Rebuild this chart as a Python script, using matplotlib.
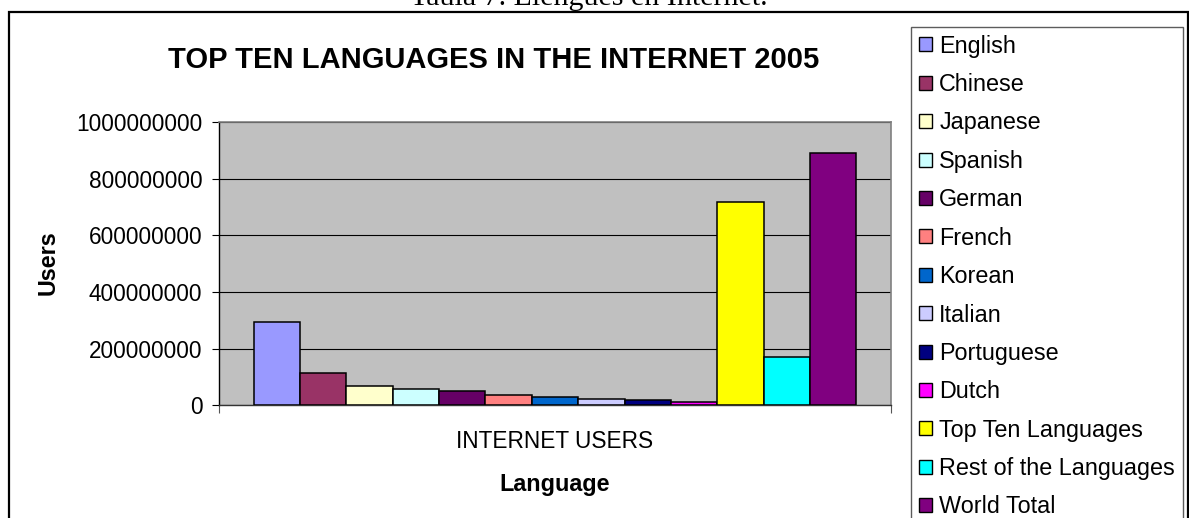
import matplotlib
matplotlib.use("Agg")
import matplotlib.pyplot as plt
from matplotlib.patches import Rectangle
from matplotlib.ticker import FixedLocator, FuncFormatter

# Internet users by language, 2005
languages = ["English", "Chinese", "Japanese", "Spanish", "German", "French",
             "Korean", "Italian", "Portuguese", "Dutch", "Top Ten Languages",
             "Rest of the Languages", "World Total"]
users = [294e6, 115e6, 67e6, 57e6, 51e6, 37e6, 30e6, 24e6, 19e6, 12e6,
         719e6, 172e6, 891e6]
colors = ["#9999FF", "#993366", "#FFFFCC", "#CCFFFF", "#660066", "#FF8080",
          "#0066CC", "#CCCCFF", "#000080", "#FF00FF", "#FFFF00", "#00FFFF",
          "#800080"]
yticks = [0, 200000000, 400000000, 600000000, 800000000, 1000000000]
category = "INTERNET USERS"

W, H = 1189, 518
plt.rcParams["font.family"] = ["Liberation Sans", "DejaVu Sans"]
fig = plt.figure(figsize=(W / 100, H / 100), dpi=100)

def fx(px):
    return px / W

def fy(py):
    return 1 - py / H

ax_l, ax_r, ax_t, ax_b = 219, 891, 122, 405.3
ax = fig.add_axes([fx(ax_l), fy(ax_b), fx(ax_r - ax_l), (ax_b - ax_t) / H])
ax.set_facecolor("#C0C0C0")

n = len(users)
xs = list(range(n))
bars = ax.bar(xs, users, width=1.0, color=colors, edgecolor="black",
              linewidth=1.1, zorder=3)
ax.set_xlim(-1.25, n - 1 + 1.25)
ax.set_ylim(0, 1e9)

ax.yaxis.set_major_locator(FixedLocator(yticks))
ax.yaxis.set_major_formatter(FuncFormatter(lambda v, p: f"{int(round(v))}"))
ax.grid(axis="y", color="black", linewidth=0.8, zorder=1)
ax.tick_params(axis="y", direction="out", length=5, width=0.8, pad=7,
               labelsize=16.3, colors="black")

# Category label and edge ticks on the x axis
ax.set_xticks([-1.25, n - 1 + 1.25])
ax.set_xticklabels(["", ""])
ax.tick_params(axis="x", which="major", direction="out", length=6, width=0.8,
               color="#555555")
ax.set_xticks([(n - 1) / 2], minor=True)
ax.set_xticklabels([category], minor=True)
ax.tick_params(axis="x", which="minor", length=0, pad=17.5, labelsize=16.3)

for side in ["top", "right"]:
    ax.spines[side].set_color("#808080")
    ax.spines[side].set_linewidth(1.2)
ax.spines["left"].set_color("black")
ax.spines["left"].set_linewidth(1.0)
ax.spines["bottom"].set_color("#333333")
ax.spines["bottom"].set_linewidth(1.0)

ax.set_ylabel("Users", fontsize=16.8, fontweight="bold")
ax.yaxis.set_label_coords((60 - ax_l) / (ax_r - ax_l), 0.502)
ax.set_xlabel("Language", fontsize=16.8, fontweight="bold")
ax.xaxis.set_label_coords((555 - ax_l) / (ax_r - ax_l),
                          (ax_b - 473) / (ax_b - ax_t))

fig.text(fx(494), fy(60), "TOP TEN LANGUAGES IN THE INTERNET 2005",
         fontsize=21, fontweight="bold", ha="center", va="center")

# Caption above the frame
fig.text(fx(589), fy(5), "Taula 7. Llengües en Internet.",
         family=["Liberation Serif", "DejaVu Serif"], fontsize=21.6,
         ha="center", va="baseline")

# Outer frame
fig.add_artist(Rectangle((fx(9), fy(560)), fx(1188 - 9), (560 - 11.5) / H,
                         transform=fig.transFigure, fill=False,
                         edgecolor="black", linewidth=1.6, clip_on=False))

leg = ax.legend(bars, languages, loc="upper left",
                bbox_to_anchor=(fx(911), fy(27)),
                bbox_transform=fig.transFigure, fontsize=16.8,
                frameon=True, fancybox=False, shadow=False,
                handlelength=0.55, handleheight=0.55, handletextpad=0.33,
                labelspacing=0.66, borderpad=0.33, borderaxespad=0)
leg.get_frame().set_edgecolor("#333333")
leg.get_frame().set_linewidth(1.0)
for h in leg.legend_handles:
    h.set_linewidth(1.0)

fig.savefig("out.png", dpi=100)
